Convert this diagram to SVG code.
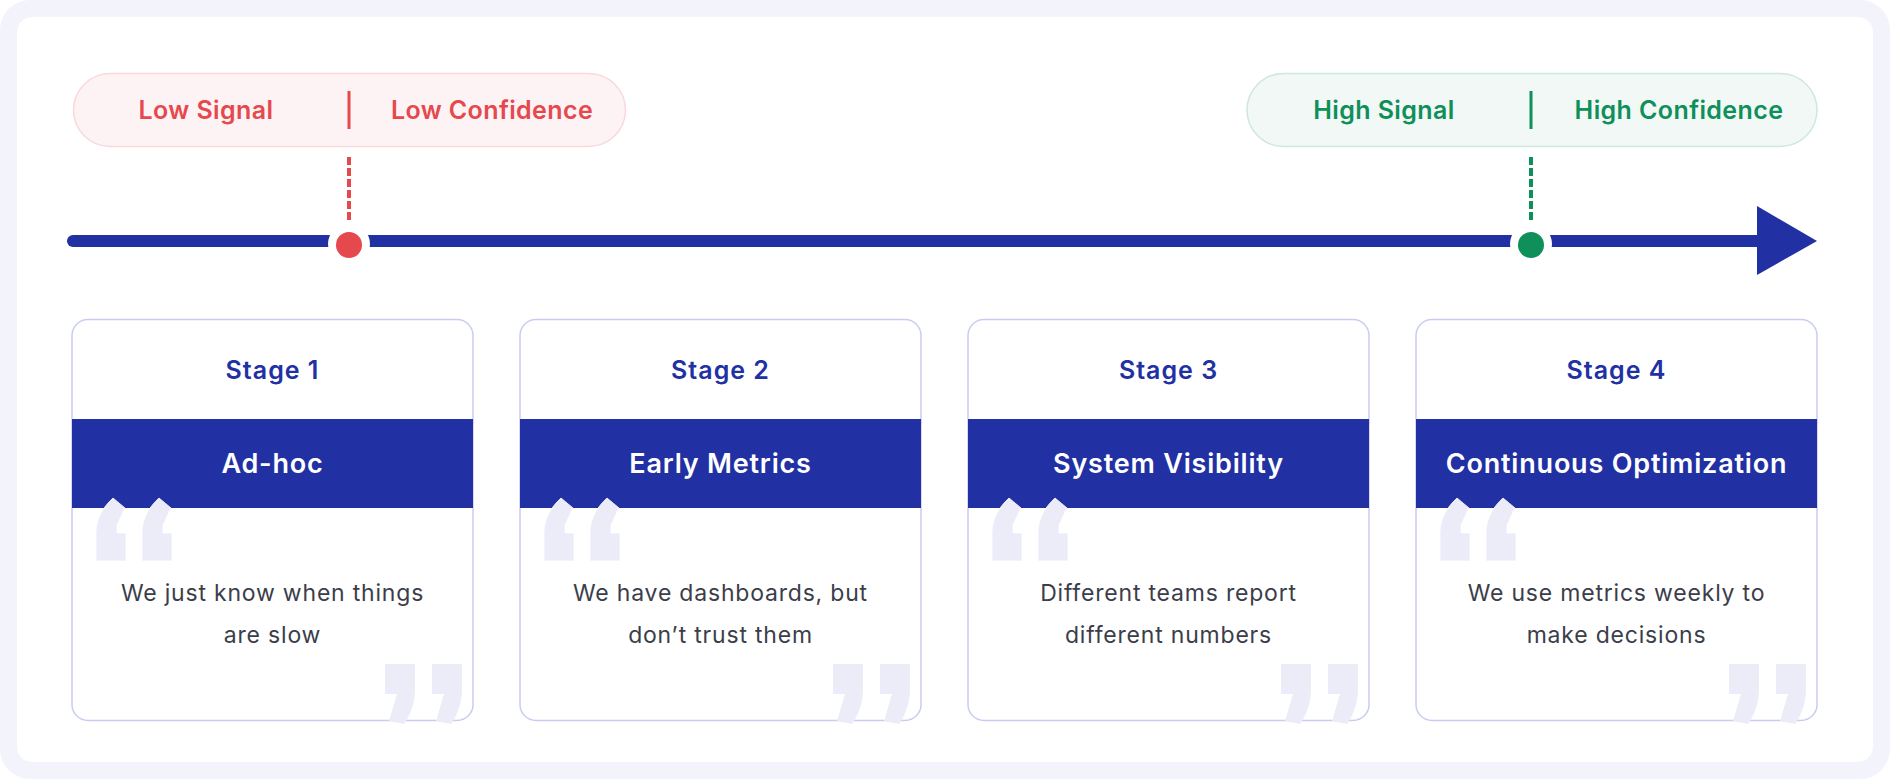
<svg xmlns="http://www.w3.org/2000/svg" width="1890" height="779" viewBox="0 0 1890 779">
<defs>
<style>
.pilltxt{font-family:Inter,"Open Sans","Liberation Sans",sans-serif;font-weight:600;font-size:25px;letter-spacing:0.4px;text-anchor:middle}
.stage{font-family:Inter,"Open Sans","Liberation Sans",sans-serif;font-weight:600;font-size:25px;letter-spacing:1px;fill:#2130a3;text-anchor:middle}
.title{font-family:Inter,"Open Sans","Liberation Sans",sans-serif;font-weight:600;font-size:27px;letter-spacing:0.8px;fill:#ffffff;text-anchor:middle}
.body{font-family:Inter,"Open Sans","Liberation Sans",sans-serif;font-weight:400;font-size:23px;letter-spacing:0.8px;fill:#3b3e4a;text-anchor:middle}
.card{fill:#ffffff;stroke:#c9ccf1;stroke-width:1.5}
.band{fill:#2130a3}
.quote{fill:#ecebf8}
.red{fill:#e5484d}
.green{fill:#0f8f5a}
.dash{stroke-width:4;stroke-dasharray:8 3}
</style>
<g id="oq">
<path class="quote" d="M0,0 H30 V-28 H21 V-36 L29,-53 L17,-63 C7,-54 0,-42 0,-28 Z" stroke="#ffffff" stroke-width="0.8"/>
<path class="quote" d="M46,0 H76 V-28 H67 V-36 L75,-53 L63,-63 C53,-54 46,-42 46,-28 Z" stroke="#ffffff" stroke-width="0.8"/>
</g>
<g id="cq">
<path class="quote" d="M0,0 H30 V24 C30,38 26,50 19,60 L4,57 L12,30 H0 Z"/>
<path class="quote" d="M47,0 H77 V24 C77,38 73,50 66,60 L51,57 L59,30 H47 Z"/>
</g>
</defs>

<rect x="0" y="0" width="1890" height="779" rx="30" fill="#f3f3fb"/>
<rect x="17" y="17" width="1856" height="745" rx="15" fill="#ffffff"/>

<g id="connectors">
<line x1="73" y1="241" x2="1759" y2="241" stroke="#2130a3" stroke-width="12" stroke-linecap="round"/>
<polygon points="1757,206 1817,241 1757,275" fill="#2130a3"/>
<line class="dash" x1="349" y1="157" x2="349" y2="222" stroke="#e5484d"/>
<line class="dash" x1="1531" y1="157" x2="1531" y2="222" stroke="#0f8f5a"/>
</g>

<g id="low-pill">
<rect x="73.5" y="73.5" width="552" height="73" rx="36.5" fill="#fdf3f4" stroke="#f9d9dc" stroke-width="1.5"/>
<line x1="349" y1="91" x2="349" y2="129" stroke="#e5484d" stroke-width="3"/>
<text class="pilltxt red" x="206" y="119">Low Signal</text>
<text class="pilltxt red" x="492" y="119">Low Confidence</text>
</g>

<g id="high-pill">
<rect x="1247" y="73.5" width="570" height="73" rx="36.5" fill="#f1f8f5" stroke="#cfe7dc" stroke-width="1.5"/>
<line x1="1531" y1="91" x2="1531" y2="129" stroke="#0f8f5a" stroke-width="3"/>
<text class="pilltxt green" x="1384" y="119">High Signal</text>
<text class="pilltxt green" x="1679" y="119">High Confidence</text>
</g>

<g id="low-marker">
<circle cx="349" cy="244" r="21" fill="#ffffff"/>
<circle cx="349" cy="245" r="13" fill="#e5484d"/>
</g>
<g id="high-marker">
<circle cx="1531" cy="244" r="21" fill="#ffffff"/>
<circle cx="1531" cy="245" r="13" fill="#0f8f5a"/>
</g>

<g id="stage-1">
<rect class="card" x="72" y="319.5" width="401" height="401" rx="16"/>
<rect class="band" x="72" y="419" width="401" height="89"/>
<text class="stage" x="272.5" y="379">Stage 1</text>
<text class="title" x="272.5" y="473">Ad-hoc</text>
<use href="#oq" x="96" y="561"/>
<text class="body" x="272.5" y="601">We just know when things</text>
<text class="body" x="272.5" y="643">are slow</text>
<use href="#cq" x="385" y="664"/>
</g>

<g id="stage-2">
<rect class="card" x="520" y="319.5" width="401" height="401" rx="16"/>
<rect class="band" x="520" y="419" width="401" height="89"/>
<text class="stage" x="720.5" y="379">Stage 2</text>
<text class="title" x="720.5" y="473">Early Metrics</text>
<use href="#oq" x="544" y="561"/>
<text class="body" x="720.5" y="601">We have dashboards, but</text>
<text class="body" x="720.5" y="643">don’t trust them</text>
<use href="#cq" x="833" y="664"/>
</g>

<g id="stage-3">
<rect class="card" x="968" y="319.5" width="401" height="401" rx="16"/>
<rect class="band" x="968" y="419" width="401" height="89"/>
<text class="stage" x="1168.5" y="379">Stage 3</text>
<text class="title" x="1168.5" y="473">System Visibility</text>
<use href="#oq" x="992" y="561"/>
<text class="body" x="1168.5" y="601">Different teams report</text>
<text class="body" x="1168.5" y="643">different numbers</text>
<use href="#cq" x="1281" y="664"/>
</g>

<g id="stage-4">
<rect class="card" x="1416" y="319.5" width="401" height="401" rx="16"/>
<rect class="band" x="1416" y="419" width="401" height="89"/>
<text class="stage" x="1616.5" y="379">Stage 4</text>
<text class="title" x="1616.5" y="473">Continuous Optimization</text>
<use href="#oq" x="1440" y="561"/>
<text class="body" x="1616.5" y="601">We use metrics weekly to</text>
<text class="body" x="1616.5" y="643">make decisions</text>
<use href="#cq" x="1729" y="664"/>
</g>
</svg>
